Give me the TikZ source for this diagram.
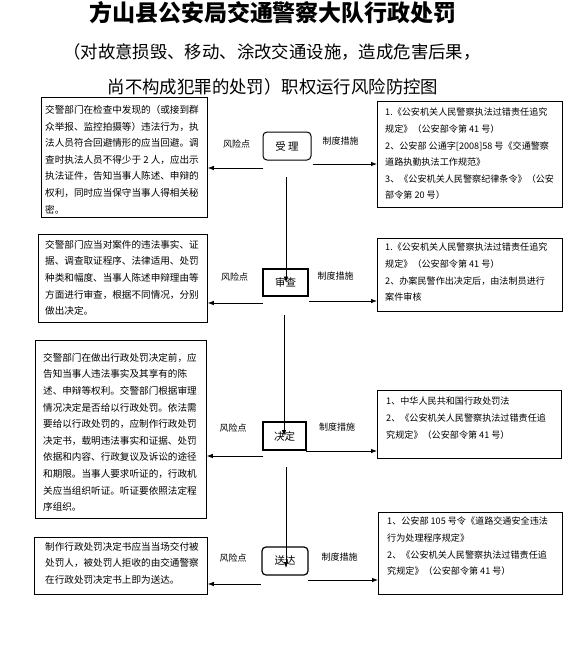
\documentclass[tikz,border=0pt]{standalone}
\usepackage{fontspec}
\setmainfont{Noto Sans CJK SC}
\usetikzlibrary{arrows.meta}
\begin{document}
\begin{tikzpicture}[x=1pt,y=-1pt,
  frame/.style={draw, line width=0.8pt, inner sep=0pt, anchor=north west},
  txt/.style={anchor=north west, inner sep=0pt, align=left, font=\fontsize{9.6}{16.6}\selectfont},
  rtxt/.style={txt, font=\fontsize{9.1}{16.6}\selectfont},
  stepthin/.style={draw, line width=1pt, rounded corners=4pt, inner sep=0pt, font=\fontsize{10.5}{12}\selectfont},
  stepthick/.style={draw, line width=2pt, inner sep=0pt, font=\fontsize{10.5}{12}\selectfont},
  lab/.style={inner sep=0pt, font=\fontsize{9}{10}\selectfont},
  arr/.style={line width=0.8pt, -{Latex[length=6pt,width=4.5pt]}}]
\useasboundingbox (0,0) rectangle (581,665);
% titles
\node[inner sep=0pt, font=\bfseries\fontsize{23}{23}\selectfont] (title) at (273,12.5) {方山县公安局交通警察大队行政处罚};
\node[inner sep=0pt, font=\fontsize{17.4}{18}\selectfont] (sub1) at (272,52) {（对故意损毁、移动、涂改交通设施，造成危害后果，};
\node[inner sep=0pt, font=\fontsize{17.4}{18}\selectfont] (sub2) at (273,87) {尚不构成犯罪的处罚）职权运行风险防控图};
% left boxes
\node[frame, minimum width=166pt, minimum height=120pt] (L1) at (41,97) {};
\node[txt] (L1t) at (45,105) {交警部门在检查中发现的（或接到群\\众举报、监控拍摄等）违法行为，执\\法人员符合回避情形的应当回避。调\\查时执法人员不得少于 2 人，应出示\\执法证件，告知当事人陈述、申辩的\\权利，同时应当保守当事人得相关秘\\密。};
\node[frame, minimum width=169pt, minimum height=88pt] (L2) at (38,234) {};
\node[txt] (L2t) at (45,240) {交警部门应当对案件的违法事实、证\\据、调查取证程序、法律适用、处罚\\种类和幅度、当事人陈述申辩理由等\\方面进行审查，根据不同情况，分别\\做出决定。};
\node[frame, minimum width=171pt, minimum height=178pt] (L3) at (35,340) {};
\node[txt] (L3t) at (43,353) {交警部门在做出行政处罚决定前，应\\告知当事人违法事实及其享有的陈\\述、申辩等权利。交警部门根据审理\\情况决定是否给以行政处罚。依法需\\要给以行政处罚的，应制作行政处罚\\决定书，载明违法事实和证据、处罚\\依据和内容、行政复议及诉讼的途径\\和期限。当事人要求听证的，行政机\\关应当组织听证。听证要依照法定程\\序组织。};
\node[frame, minimum width=173pt, minimum height=57pt] (L4) at (34,537) {};
\node[txt] (L4t) at (45,542) {制作行政处罚决定书应当当场交付被\\处罚人，被处罚人拒收的由交通警察\\在行政处罚决定书上即为送达。};
% right boxes
\node[frame, minimum width=185pt, minimum height=106pt] (R1) at (377,101) {};
\node[rtxt] (R1t) at (385,108) {1.《公安机关人民警察执法过错责任追究\\规定》（公安部令第 41 号）\\2、公安部 公通字[2008]58 号《交通警察\\道路执勤执法工作规范》\\3、《公安机关人民警察纪律条令》（公安\\部令第 20 号）};
\node[frame, minimum width=185pt, minimum height=73pt] (R2) at (377,238) {};
\node[rtxt] (R2t) at (385,243) {1.《公安机关人民警察执法过错责任追究\\规定》（公安部令第 41 号）\\2、办案民警作出决定后，由法制员进行\\案件审核};
\node[frame, minimum width=184pt, minimum height=68pt] (R3) at (377,390) {};
\node[rtxt] (R3t) at (386,397) {1、中华人民共和国行政处罚法\\2、《公安机关人民警察执法过错责任追\\究规定》（公安部令第 41 号）};
\node[frame, minimum width=184pt, minimum height=82pt] (R4) at (378,512) {};
\node[rtxt] (R4t) at (387,517) {1、公安部 105 号令《道路交通安全违法\\行为处理程序规定》\\2、《公安机关人民警察执法过错责任追\\究规定》（公安部令第 41 号）};
% step boxes
\node[stepthin, minimum width=48pt, minimum height=28pt] (S1) at (287,146) {受 理};
\node[stepthick, minimum width=45pt, minimum height=27pt] (S2) at (285.5,282.5) {审查};
\node[stepthick, minimum width=43pt, minimum height=28pt] (S3) at (284.5,436) {决定};
\node[stepthin, line width=1.2pt, minimum width=46pt, minimum height=28pt] (S4) at (285,561) {送达};
% labels
\node[lab] (r1) at (236.5,144) {风险点};
\node[lab] (r2) at (234.5,277) {风险点};
\node[lab] (r3) at (233,428) {风险点};
\node[lab] (r4) at (233,558) {风险点};
\node[lab] (m1) at (340.5,141) {制度措施};
\node[lab] (m2) at (335.5,276) {制度措施};
\node[lab] (m3) at (337,427) {制度措施};
\node[lab] (m4) at (339.5,557) {制度措施};
% arrow start points
\coordinate (a1) at (263,168);
\coordinate (a2) at (263,303);
\coordinate (a3) at (263,456);
\coordinate (a4) at (261,584);
\coordinate (b1) at (313,164);
\coordinate (b2) at (309,301);
\coordinate (b3) at (306,451);
\coordinate (b4) at (308,580);
\coordinate (v1) at (286,177);
\coordinate (v2) at (284,315);
\coordinate (v3) at (286,467);
\coordinate (w3) at (286,568);
% arrows
\draw[arr] (a1) -- (a1 -| L1.east);
\draw[arr] (a2) -- (a2 -| L2.east);
\draw[arr] (a3) -- (a3 -| L3.east);
\draw[arr] (a4) -- (a4 -| L4.east);
\draw[arr] (b1) -- (b1 -| R1.west);
\draw[arr] (b2) -- (b2 -| R2.west);
\draw[arr] (b3) -- (b3 -| R3.west);
\draw[arr] (b4) -- (b4 -| R4.west);
\draw[arr] (v1) -- (v1 |- S2.center);
\draw[arr] (v2) -- (v2 |- S3.center);
\draw[arr] (v3) -- (w3);
\end{tikzpicture}
\end{document}
